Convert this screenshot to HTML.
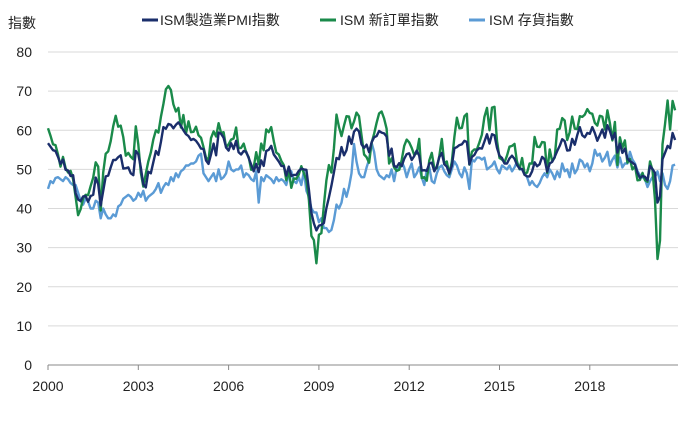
<!DOCTYPE html>
<html><head><meta charset="utf-8"><style>
body{margin:0;background:#fff;}
svg{display:block;font-family:"Liberation Sans","Noto Sans CJK TC",sans-serif;}
</style></head><body>
<svg id="chart" width="691" height="424" viewBox="0 0 691 424">
<g id="grid"></g>
<g id="yaxis"></g>
<g id="xaxis"></g>
<g id="series"></g>
<text x="8" y="28" font-size="14" fill="#222">指數</text>
<g>
<g><line x1="142" y1="20" x2="158" y2="20" stroke="#1a2e6b" stroke-width="3"/><text x="160" y="25" font-size="14" fill="#222">ISM製造業PMI指數</text></g>
<g><line x1="320" y1="20" x2="336" y2="20" stroke="#1a8a4a" stroke-width="3"/><text x="340" y="25" font-size="14" fill="#222">ISM 新訂單指數</text></g>
<g><line x1="469" y1="20" x2="485" y2="20" stroke="#5b9bd5" stroke-width="3"/><text x="489" y="25" font-size="14" fill="#222">ISM 存貨指數</text></g>
</g>
</svg>
<script>
const yTicks=[0,10,20,30,40,50,60,70,80];
const xTickYears=[2000,2003,2006,2009,2012,2015,2018];
const pmi=[56.7,55.8,54.9,54.7,53.2,51.4,52.5,49.9,49.7,48.3,48.5,43.9,
42.3,41.9,43.1,43.2,41.7,43.2,43.5,47.9,46.2,40.8,44.5,48.2,
48.4,50.5,52.4,52.4,53.1,53.6,50.2,50.3,50.5,49.0,48.5,54.7,
53.9,50.5,46.2,45.4,49.4,49.0,51.8,54.7,53.7,57.0,60.8,60.4,
61.6,61.4,60.5,61.4,62.0,61.1,60.0,59.0,58.5,57.5,57.8,57.3,
56.4,55.3,55.2,52.3,51.4,53.8,56.6,53.6,59.4,59.1,58.1,55.6,
54.8,56.7,55.2,57.3,54.4,53.8,54.7,54.5,52.9,51.2,49.5,51.4,
49.3,52.3,50.9,54.7,55.0,56.0,53.8,52.9,52.0,50.9,50.8,48.4,
50.7,48.3,48.6,48.6,49.6,50.2,50.0,49.9,44.8,38.9,36.2,34.4,
35.6,35.8,36.3,40.1,42.8,45.8,49.2,52.9,52.6,55.7,53.6,54.9,
58.4,56.5,59.6,60.4,59.7,56.4,55.5,56.3,54.4,56.9,58.2,58.5,
59.8,59.4,59.2,58.4,53.5,55.3,50.9,50.6,51.6,50.8,52.7,53.9,
54.1,52.4,53.4,54.8,53.5,49.7,49.8,49.6,51.5,51.7,49.5,50.7,
53.1,54.2,51.3,50.7,49.0,50.9,55.4,55.7,56.2,56.4,57.3,57.0,
51.3,53.2,53.7,54.9,55.4,55.3,57.1,59.0,56.6,59.0,58.7,55.5,
53.5,52.9,51.5,51.5,52.8,53.5,52.7,51.1,50.2,50.1,48.6,48.2,
48.2,49.5,51.8,50.8,51.3,53.2,52.6,49.4,51.5,51.9,53.2,54.7,
56.0,57.7,57.2,54.8,54.9,57.8,56.3,58.8,60.8,58.7,58.2,59.3,
59.1,60.8,59.3,57.3,58.7,60.2,58.1,61.3,59.8,57.7,59.3,54.3,
56.6,54.2,55.3,52.8,52.1,51.7,51.2,49.1,47.8,48.3,48.1,47.2,
50.9,50.1,49.1,41.5,43.1,52.6,54.2,56.0,55.4,59.3,57.5];
const newOrders=[60.5,58.6,56.4,56.2,53.8,50.7,53.2,50.3,49.2,49.6,47.5,43.0,
38.3,39.8,42.6,43.5,43.4,45.7,47.9,51.8,50.7,39.5,49.2,54.0,
54.6,57.2,61.0,63.7,60.9,61.2,58.2,53.5,54.2,53.2,52.6,61.0,
56.4,49.2,45.6,48.9,52.0,54.3,57.6,60.0,59.4,63.4,66.7,70.5,
71.3,70.3,66.6,64.8,65.7,60.7,63.9,59.2,62.3,59.5,59.6,60.9,
58.7,58.1,55.7,53.0,52.3,58.0,59.7,58.4,61.8,59.3,59.5,55.6,
56.4,57.6,57.9,60.7,55.4,55.5,56.6,54.3,53.1,49.9,50.5,54.4,
51.3,56.6,54.9,60.2,59.5,60.8,57.2,54.3,53.8,52.2,51.1,47.2,
49.6,45.3,47.7,47.6,48.7,50.8,49.0,47.2,42.2,33.0,31.9,26.0,
33.3,33.7,40.9,47.2,51.1,49.2,55.3,64.0,60.8,58.5,61.2,63.6,
63.5,60.5,62.2,64.5,63.6,58.7,53.8,53.1,51.7,56.8,59.1,61.9,
64.3,64.8,63.0,60.4,51.5,52.8,50.5,49.6,49.9,52.4,56.0,57.6,
56.9,55.5,53.7,54.1,57.8,47.8,48.0,47.1,52.3,54.2,50.3,50.3,
53.4,57.8,51.4,52.0,48.8,51.9,58.3,63.2,60.5,60.6,63.6,64.2,
51.2,54.5,55.1,55.1,56.9,58.9,63.4,65.7,60.0,65.8,66.0,57.3,
52.9,52.5,51.8,53.5,55.8,56.0,56.5,51.7,50.1,52.9,48.9,49.2,
51.5,51.5,58.3,55.8,55.7,57.0,56.9,49.1,55.1,52.1,53.0,60.2,
60.4,63.1,62.5,57.5,59.5,63.5,60.4,60.3,63.6,63.4,64.0,65.4,
64.4,64.2,61.9,61.2,63.7,63.5,60.2,65.1,61.8,57.4,62.1,51.1,
58.2,55.5,57.4,51.7,52.7,50.0,50.8,47.2,47.3,49.1,47.2,46.8,
52.0,49.8,42.2,27.1,31.8,56.4,61.5,67.6,60.2,67.5,65.1];
const inventories=[45.0,47.0,46.5,47.8,48.0,47.5,47.0,48.0,47.5,46.5,46.0,46.0,
44.0,42.0,41.0,42.5,41.8,40.0,40.0,42.0,41.5,37.5,40.0,38.5,
37.5,37.5,38.5,38.0,40.5,41.0,42.5,43.0,43.5,43.0,42.0,42.5,
44.0,43.0,44.5,42.0,43.0,43.5,44.0,45.0,46.5,44.0,45.5,46.5,
46,48,47,49,48,49.5,50,51,51,51.5,51.5,52,
53.5,54,49,48,47,48,49,47,50,47.5,48,49,
52,50,49.5,50,50,51,48,49,48.5,47.5,47,49.5,
41.5,48,47,48.5,48,47.5,46.5,48,47,47.5,47,46,
49,49.5,47,46.5,48,46,49.5,44.5,43,40,39,39,
36.5,37.5,35,35,34,34.5,37,41,40,41.5,45,43,
45.5,49,56.5,52,49,48,48,50.5,52.5,56.8,54.5,50,
48.5,48,47.5,48.5,48,50,47,50.5,50,52,50.5,48,
50,51.5,48,49,50.5,48,46,50,50.5,47,46.5,49,
50.5,51,49.5,48.5,48,50,52,51,49,48,50.5,49,
45,52.5,52,53,53,52.5,53,50,50.5,51,52,50,
49,51,50.5,50,51,49.5,50.5,52,50,50,49,48,
46,47,46,45.5,46.5,48,49,48,50,49,47.5,49.5,
48,51.5,49.5,50,48,51.5,49,50,52.5,52,50.5,51.5,
49.5,51.5,55,53.5,54,52,53,54.5,51,52.5,53.5,50.5,
53,50.5,51.5,51.5,54.5,52.5,51.5,49.5,48.5,48,47.5,45.5,
47,48,48,49.5,47,49,46,45,47,51,51.2];

const X0=48,X1=678,Y0=365,Y80=52;
function xScale(i){return X0+i*(30.1/12);}
function yScale(v){return Y0-(v/80)*(Y0-Y80);}
const NS="http://www.w3.org/2000/svg";
function mk(tag,attrs,parent){const e=document.createElementNS(NS,tag);for(const k in attrs)e.setAttribute(k,attrs[k]);parent.appendChild(e);return e;}
const grid=document.getElementById('grid'),yaxis=document.getElementById('yaxis'),xaxis=document.getElementById('xaxis'),series=document.getElementById('series');
yTicks.forEach(t=>{
  const y=yScale(t);
  if(t>0){const l=mk('line',{x1:X0,x2:X1,y1:y,y2:y,stroke:'#d9d9d9','stroke-width':1},grid);
  
  }
  const tx=mk('text',{x:32,y:y+5,'text-anchor':'end','font-size':14,fill:'#222'},yaxis);
  tx.textContent=t;
  
  
});
const base=mk('line',{x1:X0,x2:X1,y1:Y0,y2:Y0,stroke:'#888','stroke-width':1},xaxis);


xTickYears.forEach(yr=>{
  const x=xScale((yr-2000)*12);
  const tk=mk('line',{x1:x,x2:x,y1:Y0,y2:Y0+5,stroke:'#888'},xaxis);
  
  
  const tx=mk('text',{x:x,y:391,'text-anchor':'middle','font-size':14,fill:'#222'},xaxis);
  tx.textContent=yr;
  
  
});
function drawLine(data,color,name){
  const d=data.map((v,i)=>(i?'L':'M')+xScale(i).toFixed(1)+','+yScale(v).toFixed(1)).join('');
  const p=mk('path',{d:d,fill:'none',stroke:color,'stroke-width':2.4,'stroke-linejoin':'round'},series);
  
  
}
drawLine(inventories,'#5b9bd5','inventories-line');
drawLine(newOrders,'#1a8a4a','new-orders-line');
drawLine(pmi,'#1a2e6b','pmi-line');
</script>
</body></html>
